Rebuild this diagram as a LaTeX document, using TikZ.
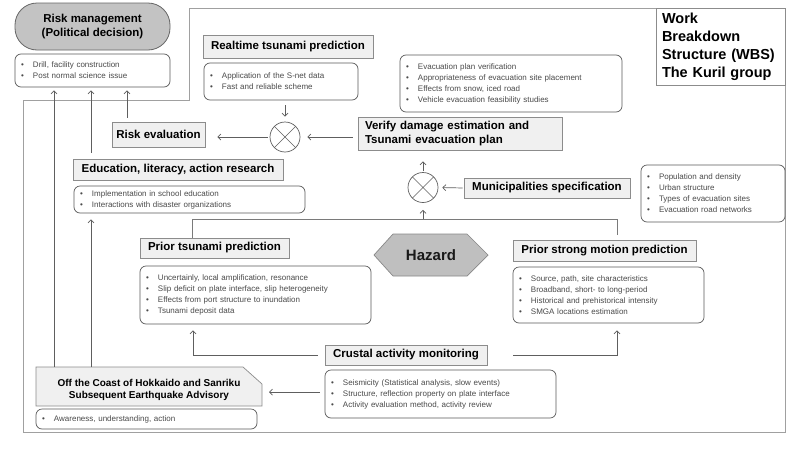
\documentclass[tikz,border=0pt]{standalone}
\usepackage{fontspec}
\setmainfont{Liberation Sans}
\usetikzlibrary{arrows.meta}
\definecolor{ttlfill}{HTML}{F0F0F0}
\definecolor{ttldraw}{HTML}{8C8C8C}
\definecolor{buldraw}{HTML}{5A5A5A}
\definecolor{bultext}{HTML}{4A4A4A}
\definecolor{arrcol}{HTML}{5E5E5E}
\definecolor{lncol}{HTML}{7A7A7A}
\definecolor{framecol}{HTML}{A0A0A0}
\definecolor{rmfill}{HTML}{C3C3C3}
\definecolor{rmdraw}{HTML}{666666}
\definecolor{hzfill}{HTML}{BFBFBF}
\definecolor{hzdraw}{HTML}{888888}
\newcommand\bl{\makebox[12pt][l]{\textbullet}}
\begin{document}
\begin{tikzpicture}[x=1pt,y=-1pt,
  ttl/.style={draw=ttldraw, fill=ttlfill, line width=0.7pt, text=black, inner sep=2pt,
    font=\bfseries\fontsize{11.5}{14}\selectfont},
  bul/.style={draw=buldraw, rounded corners=6pt, fill=white, line width=0.7pt, align=left,
    inner xsep=6pt, inner ysep=2pt, text=bultext, font=\fontsize{8}{11}\selectfont},
  arr/.style={draw=arrcol, line width=0.7pt, -{Straight Barb[length=3pt,width=6pt]}},
  ln/.style={draw=lncol, line width=0.7pt},
  xcirc/.style={circle, draw=arrcol, line width=0.7pt, minimum size=30pt, inner sep=0pt,
    path picture={\draw[arrcol, line width=0.6pt] (path picture bounding box.north west) -- (path picture bounding box.south east)
      (path picture bounding box.north east) -- (path picture bounding box.south west);}}]
\useasboundingbox[fill=white] (0,0) rectangle (800,450);

% frame
\draw[framecol, line width=0.8pt] (23,100) -- (189,100) -- (189,8) -- (785,8) -- (785,432) -- (23,432) -- cycle;

% risk management
\node[draw=rmdraw, fill=rmfill, line width=0.8pt, rounded corners=22pt, minimum width=155pt, minimum height=47pt,
  align=center, font=\bfseries\fontsize{11.5}{14.5}\selectfont] (riskm) at (92.5,26.5) {Risk management\\(Political decision)};
\node[bul, minimum width=155pt, minimum height=33pt, text width=143pt] (riskb) at (92.5,70.5)
  {\bl Drill, facility construction\\\bl Post normal science issue};

% WBS
\node[draw=ttldraw, fill=white, line width=0.7pt, minimum width=129pt, minimum height=77pt, text width=117pt,
  inner xsep=6pt, align=left, font=\bfseries\fontsize{14.5}{18}\selectfont] (wbs) at (720.5,46.5)
  {Work\\Breakdown\\Structure (WBS)\\The Kuril group};

% realtime
\node[ttl, minimum width=170pt, minimum height=23pt] (rtp) at (288,46.5) {Realtime tsunami prediction};
\node[bul, minimum width=154pt, minimum height=37pt, text width=142pt] (rtpb) at (281,81.5)
  {\bl Application of the S-net data\\\bl Fast and reliable scheme};

\node[xcirc] (c1) at (285,137) {};
\node[ttl, minimum width=93pt, minimum height=25pt] (reval) at (158.5,134.5) {Risk evaluation};
\node[ttl, minimum width=204pt, minimum height=33pt, text width=190pt, inner xsep=7pt, align=left] (verify) at (460,133.5)
  {Verify damage estimation and\\Tsunami evacuation plan};
\node[bul, minimum width=222pt, minimum height=57pt, text width=210pt] (evb) at (511,83.5)
  {\bl Evacuation plan verification\\\bl Appropriateness of evacuation site placement\\\bl Effects from snow, iced road\\\bl Vehicle evacuation feasibility studies};

% education
\node[ttl, minimum width=210pt, minimum height=21pt] (edu) at (178,169.5) {Education, literacy, action research};
\node[bul, minimum width=231pt, minimum height=27pt, text width=219pt] (edub) at (189.5,199.5)
  {\bl Implementation in school education\\\bl Interactions with disaster organizations};

% municipalities
\node[xcirc] (c2) at (423,187.5) {};
\node[ttl, minimum width=166pt, minimum height=20pt] (muni) at (547,188) {Municipalities specification};
\node[bul, minimum width=144pt, minimum height=57pt, text width=132pt] (munib) at (713,193.5)
  {\bl Population and density\\\bl Urban structure\\\bl Types of evacuation sites\\\bl Evacuation road networks};

% prior predictions
\node[ttl, minimum width=149pt, minimum height=20pt] (ptp) at (214.5,248) {Prior tsunami prediction};
\node[bul, minimum width=231pt, minimum height=58pt, text width=219pt] (ptpb) at (255.5,295)
  {\bl Uncertainly, local amplification, resonance\\\bl Slip deficit on plate interface, slip heterogeneity\\\bl Effects from port structure to inundation\\\bl Tsunami deposit data};
\node[ttl, minimum width=183pt, minimum height=21pt] (psm) at (604.5,250.5) {Prior strong motion prediction};
\node[bul, minimum width=191pt, minimum height=56pt, text width=179pt] (psmb) at (608.5,295)
  {\bl Source, path, site characteristics\\\bl Broadband, short- to long-period\\\bl Historical and prehistorical intensity\\\bl SMGA locations estimation};

% hazard
\filldraw[draw=hzdraw, fill=hzfill, line width=0.7pt] (374,255) -- (393,234) -- (467,234) -- (488,255) -- (467,276) -- (393,276) -- cycle;
\node[font=\bfseries\fontsize{15}{18}\selectfont, text=black!90] (hazard) at (431,255) {Hazard};

% crustal
\node[ttl, minimum width=162pt, minimum height=20pt] (cam) at (406,355) {Crustal activity monitoring};
\node[bul, minimum width=231pt, minimum height=48pt, text width=219pt] (camb) at (440.5,394)
  {\bl Seismicity (Statistical analysis, slow events)\\\bl Structure, reflection property on plate interface\\\bl Activity evaluation method, activity review};

% advisory
\filldraw[draw=ttldraw, fill=ttlfill, line width=0.7pt] (36,367) -- (243,367) -- (262,384) -- (262,406) -- (36,406) -- cycle;
\node[align=center, font=\bfseries\fontsize{10}{12.5}\selectfont] (adv) at (149,390)
  {Off the Coast of Hokkaido and Sanriku\\Subsequent Earthquake Advisory};
\node[bul, minimum width=221pt, minimum height=20pt, text width=209pt] (advb) at (146.5,419)
  {\bl Awareness, understanding, action};

% coordinates
\coordinate (u1) at (54,0);
\coordinate (u2) at (91,0);
\coordinate (u3) at (127,0);
\coordinate (advtop) at (0,367);
\coordinate (advr) at (262,392);
\coordinate (j1) at (192,219);
\coordinate (j2) at (617,219);
\coordinate (k1) at (193,355);
\coordinate (k2) at (617,355);

% connectors
\draw[arr, shorten <=5pt, shorten >=5pt] (c1.north |- rtpb.south) -- (c1.north);
\draw[arr, shorten <=2pt, shorten >=12pt] (c1.west) -- (reval.east |- c1.west);
\draw[arr, shorten <=5pt, shorten >=7pt] (verify.west |- c1.east) -- (c1.east);
\draw[arr, shorten <=4pt, shorten >=3pt] (u3 |- reval.north) -- (u3 |- riskb.south);
\draw[arr, shorten <=6pt, shorten >=3pt] (u2 |- edu.north) -- (u2 |- riskb.south);
\draw[arr, shorten >=3pt] (u1 |- advtop) -- (u1 |- riskb.south);
\draw[arr, shorten >=6pt] (u2 |- advtop) -- (u2 |- edub.south);
\draw[arr, shorten <=1pt, shorten >=11pt] (c2.north) -- (c2.north |- verify.south);
\draw[arr, shorten <=1pt, shorten >=4pt] (muni.west) -- (c2.east);
\draw[ln, shorten >=5pt] (ptp.north -| j1) -- (j1) -- (j2) -- (j2 |- psm.north);
\draw[arr, shorten >=7pt] (c2.south |- j1) -- (c2.south);
\draw[arr, shorten <=7pt, shorten >=6pt] (cam.west) -- (k1) -- (k1 |- ptpb.south);
\draw[arr, shorten <=26pt, shorten >=7pt] (cam.east) -- (k2) -- (k2 |- psmb.south);
\draw[arr, shorten <=5pt, shorten >=7pt] (camb.west |- advr) -- (advr);
\end{tikzpicture}
\end{document}
